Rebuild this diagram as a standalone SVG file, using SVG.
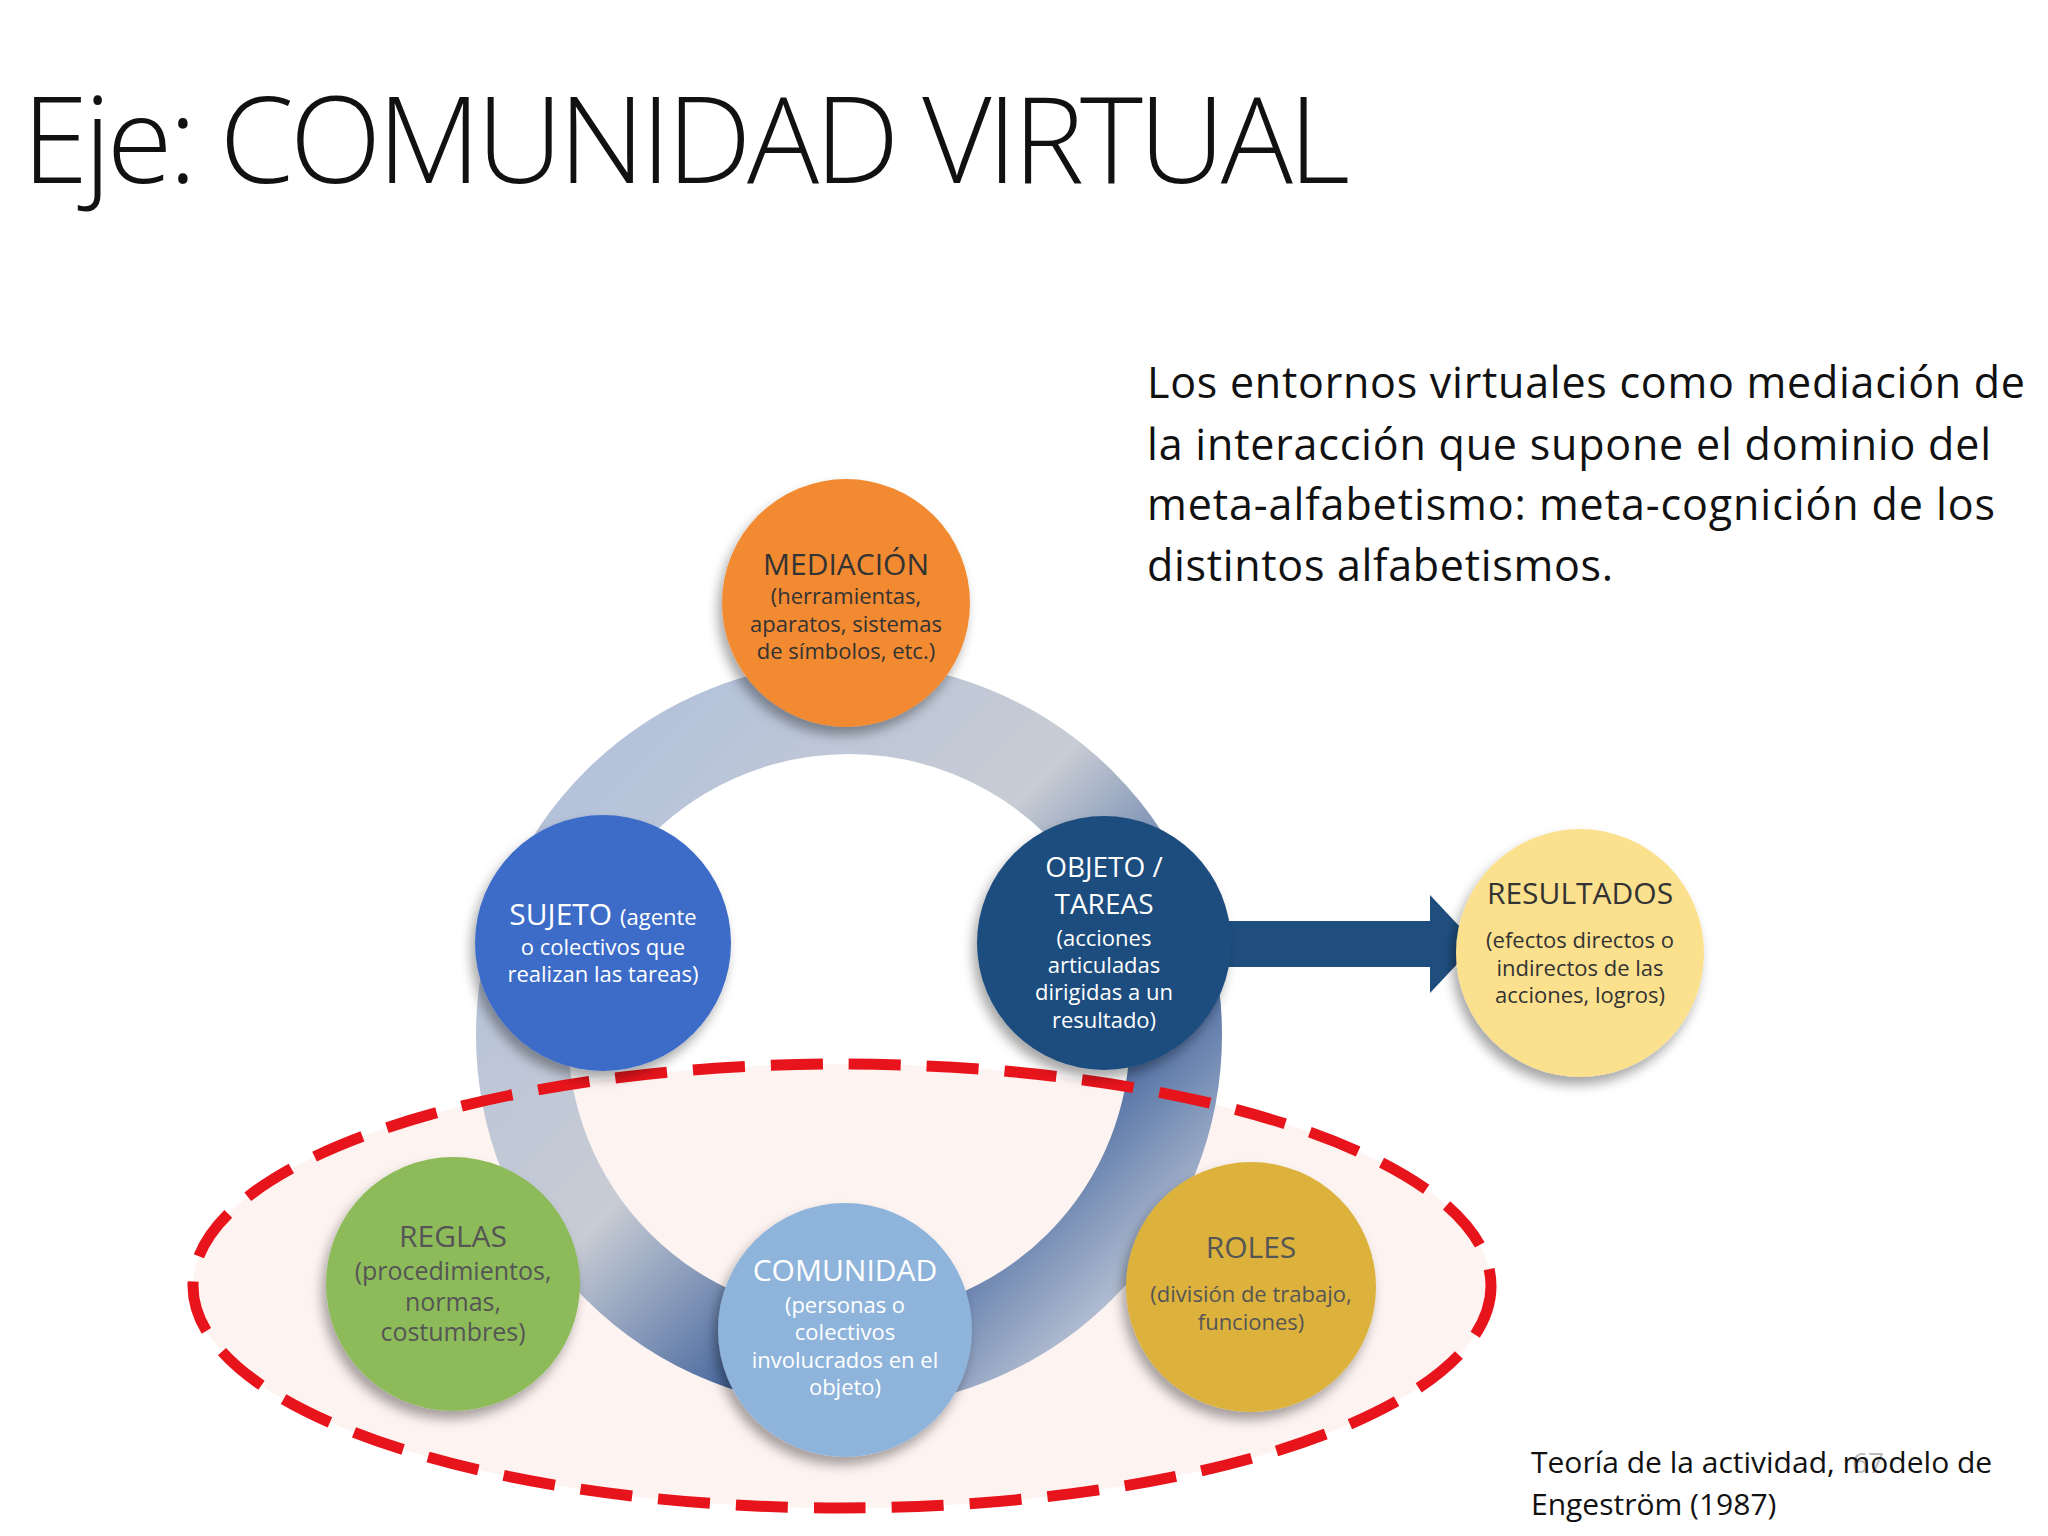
<svg xmlns="http://www.w3.org/2000/svg" width="2048" height="1536" viewBox="0 0 2048 1536">
<defs>
<style>
text{font-family:"Open Sans","Liberation Sans",sans-serif;text-anchor:middle}
.t{font-size:30px}.s{font-size:22px}
.w{fill:#fff}.d{fill:#333}.g{fill:#555}
</style>
<linearGradient id="ring" x1="0" y1="0" x2="1" y2="1">
<stop offset="0" stop-color="#aebfdc"/><stop offset="0.45" stop-color="#c8ccd4"/><stop offset="0.7" stop-color="#3c5f9a"/><stop offset="1" stop-color="#e8e8ea"/>
</linearGradient>
<filter id="sh" x="-20%" y="-20%" width="150%" height="150%"><feDropShadow dx="-4" dy="8" stdDeviation="6" flood-color="#000" flood-opacity="0.35"/></filter>
</defs>
<rect width="2048" height="1536" fill="#fff"/>
<text x="22" y="183" style="font-size:120px;font-weight:300;text-anchor:start;fill:#111" textLength="1328">Eje: COMUNIDAD VIRTUAL</text>
<g style="font-size:43px;fill:#111">
<text x="1147" y="398" style="text-anchor:start" textLength="878">Los entornos virtuales como mediación de</text>
<text x="1147" y="460" style="text-anchor:start" textLength="844">la interacción que supone el dominio del</text>
<text x="1147" y="520" style="text-anchor:start" textLength="848">meta-alfabetismo: meta-cognición de los</text>
<text x="1147" y="581" style="text-anchor:start" textLength="466">distintos alfabetismos.</text>
</g>
<g id="ellipse"><ellipse cx="842" cy="1286" rx="649" ry="222" fill="#fdf0ee" fill-opacity="0.8"/></g>
<g id="connectors">
<circle cx="849" cy="1035" r="327" fill="none" stroke="url(#ring)" stroke-width="92"/>
<path d="M1225 921 H1430 V895 L1476 944 L1430 993 V967 H1225 Z" fill="#1f4e7e"/>
</g>
<ellipse cx="842" cy="1286" rx="649" ry="222" fill="none" stroke="#e8141c" stroke-width="11" stroke-dasharray="52 26"/>
<g id="mediacion"><circle cx="846" cy="603" r="124" fill="#f28a30" filter="url(#sh)"/>
<text x="846" y="575" class="t d">MEDIACIÓN</text><text x="846" y="604" class="s d">(herramientas,</text><text x="846" y="632" class="s d">aparatos, sistemas</text><text x="846" y="659" class="s d">de símbolos, etc.)</text></g>
<g id="sujeto"><circle cx="603" cy="943" r="128" fill="#3d6cc8" filter="url(#sh)"/>
<text x="603" y="925" class="w"><tspan style="font-size:30px">SUJETO </tspan><tspan style="font-size:22px">(agente</tspan></text><text x="603" y="955" class="s w">o colectivos que</text><text x="603" y="982" class="s w">realizan las tareas)</text></g>
<g id="objeto"><circle cx="1104" cy="943" r="127" fill="#1f4e7e" filter="url(#sh)"/>
<text x="1104" y="877" style="font-size:28px" class="w">OBJETO /</text><text x="1104" y="914" style="font-size:28px" class="w">TAREAS</text><text x="1104" y="946" class="s w">(acciones</text><text x="1104" y="973" class="s w">articuladas</text><text x="1104" y="1000" class="s w">dirigidas a un</text><text x="1104" y="1028" class="s w">resultado)</text></g>
<g id="resultados"><circle cx="1580" cy="953" r="124" fill="#fbe08e" filter="url(#sh)"/>
<text x="1580" y="904" class="t d">RESULTADOS</text><text x="1580" y="948" class="s d">(efectos directos o</text><text x="1580" y="976" class="s d">indirectos de las</text><text x="1580" y="1003" class="s d">acciones, logros)</text></g>
<g id="reglas"><circle cx="453" cy="1284" r="127" fill="#8dbb5a" filter="url(#sh)"/>
<text x="453" y="1247" class="t g">REGLAS</text><text x="453" y="1280" style="font-size:25px" class="g">(procedimientos,</text><text x="453" y="1311" style="font-size:25px" class="g">normas,</text><text x="453" y="1341" style="font-size:25px" class="g">costumbres)</text></g>
<g id="comunidad"><circle cx="845" cy="1330" r="127" fill="#8fb4db" filter="url(#sh)"/>
<text x="845" y="1281" class="t w">COMUNIDAD</text><text x="845" y="1313" class="s w">(personas o</text><text x="845" y="1340" class="s w">colectivos</text><text x="845" y="1368" class="s w">involucrados en el</text><text x="845" y="1395" class="s w">objeto)</text></g>
<g id="roles"><circle cx="1251" cy="1287" r="125" fill="#dcb23c" filter="url(#sh)"/>
<text x="1251" y="1258" class="t g">ROLES</text><text x="1251" y="1302" class="s g">(división de trabajo,</text><text x="1251" y="1330" class="s g">funciones)</text></g>
<text x="1852" y="1473" style="font-size:28px;fill:#bbb;text-anchor:start">67</text>
<g style="font-size:30px;fill:#111">
<text x="1531" y="1473" style="text-anchor:start">Teoría de la actividad, modelo de</text>
<text x="1531" y="1515" style="text-anchor:start">Engeström (1987)</text>
</g>
</svg>
